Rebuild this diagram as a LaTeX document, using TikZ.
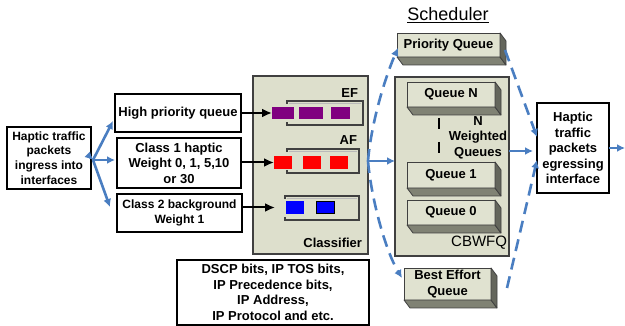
\documentclass[tikz,border=0pt]{standalone}
\usepackage{fontspec}
\setmainfont{Liberation Sans}
\usetikzlibrary{arrows.meta}
\definecolor{fillg}{RGB}{221,223,204}
\definecolor{frontg}{RGB}{224,226,208}
\definecolor{botg}{RGB}{128,130,116}
\definecolor{rightg}{RGB}{100,102,92}
\definecolor{arrowblue}{RGB}{74,126,193}
\definecolor{edgeg}{RGB}{64,64,64}
\definecolor{efpurple}{RGB}{128,0,128}
\begin{document}
\begin{tikzpicture}[x=1pt,y=-1pt,
  every node/.style={inner sep=0pt, outer sep=0pt, align=center},
  wbox/.style={draw=black, line width=1.1pt, fill=white, font=\bfseries\fontsize{13}{15.5}\selectfont},
  wboxs/.style={wbox, font=\bfseries\fontsize{12}{14.7}\selectfont},
  panel/.style={draw=edgeg, line width=1.3pt, fill=fillg},
  qfront/.style={draw=edgeg, line width=0.8pt, fill=frontg, font=\bfseries\fontsize{13}{16}\selectfont},
  lbl/.style={font=\bfseries\fontsize{13}{15.5}\selectfont},
  bluea/.style={draw=arrowblue, line width=2.6pt, -{Latex[length=8pt,width=8pt]}},
  blued/.style={bluea, dash pattern=on 12pt off 7pt},
  blk/.style={draw=black, line width=2pt, -{Latex[length=10pt,width=9pt]}},
  tube/.style={draw=edgeg, line width=1.6pt},
  tubeshade/.style={draw=gray!55, line width=1pt},
  sqbox/.style={minimum width=#1, minimum height=12.5pt}
]
\useasboundingbox (0,0) rectangle (625,326);

% left white boxes
\node[wboxs, minimum width=84pt, minimum height=62pt] (ingress) at (49,158)
  {Haptic traffic\\packets\\ingress into\\interfaces};
\node[wbox, minimum width=126pt, minimum height=38pt] (hpq) at (178,113) {High priority queue};
\node[wbox, minimum width=124pt, minimum height=50pt] (c1) at (179,163)
  {Class 1 haptic\\Weight 0, 1, 5,10\\or 30};
\node[wboxs, minimum width=125pt, minimum height=38pt] (c2) at (179.5,213)
  {Class 2 background\\Weight 1};

% classifier panel
\node[panel, minimum width=115pt, minimum height=178pt] (classifier) at (310.5,165) {};
\node[lbl, anchor=east] (clab) at (362,243) {Classifier};
\node[lbl, anchor=east] (eflab) at (358,93) {EF};
\node[lbl, anchor=east] (aflab) at (357,140) {AF};

% tubes
\draw[tube] (287,104) -- (287,101) -- (363,101) -- (363,125) -- (287,125) -- (287,122);
\draw[tubeshade] (289,103.5) -- (361,103.5);
\draw[tube] (287,152) -- (287,149) -- (359,149) -- (359,173) -- (287,173) -- (287,170);
\draw[tubeshade] (289,151.5) -- (357,151.5);
\draw[tube] (285,199) -- (285,196) -- (359,196) -- (359,220) -- (285,220) -- (285,217);
\draw[tubeshade] (287,198.5) -- (357,198.5);

% packets
\node[sqbox=22pt, fill=efpurple] (ef1) at (283,113) {};
\node[sqbox=24pt, fill=efpurple] (ef2) at (311,113) {};
\node[sqbox=19pt, fill=efpurple] (ef3) at (340.5,113) {};
\node[sqbox=18pt, fill=red] (af1) at (283,162.5) {};
\node[sqbox=18pt, fill=red] (af2) at (312,162.5) {};
\node[sqbox=18pt, fill=red] (af3) at (339,162.5) {};
\node[sqbox=18pt, fill=blue] (bl1) at (295,207.5) {};
\node[sqbox=18pt, fill=blue, draw=black, line width=0.8pt] (bl2) at (325,207.5) {};

% black arrows into classifier
\draw[blk] (hpq.east) -- (ef1.west);
\draw[blk] (c1.east |- af1.west) -- (af1.west);
\draw[blk] (c2.east |- bl1.west) -- ([shift={(-11,0)}]bl1.west);

% info box
\node[wbox, minimum width=192pt, minimum height=65pt] (info) at (273,292.5)
  {DSCP bits, IP TOS bits,\\IP Precedence bits,\\IP Address,\\IP Protocol and etc.};

% scheduler
\node[font=\fontsize{18}{20}\selectfont] (sched) at (448,15) {\underline{Scheduler}};
\node[panel, minimum width=114pt, minimum height=179pt] (cbwfq) at (452,166.5) {};
\node[font=\fontsize{15}{17}\selectfont, anchor=east] (cblab) at (507,243) {CBWFQ};

\node[qfront, minimum width=103pt, minimum height=24pt] (pq) at (448.5,45) {Priority Queue};
\node[qfront, minimum width=88pt, minimum height=25pt] (qN) at (451,94.5) {Queue N};
\node[qfront, minimum width=88pt, minimum height=26pt] (q1) at (451,175) {Queue 1};
\node[qfront, minimum width=88pt, minimum height=25pt] (q0) at (451,212.5) {Queue 0};
\node[qfront, minimum width=87pt, minimum height=32pt] (be) at (447.5,284) {Best Effort\\Queue};

\foreach \n in {pq,qN,q1,q0,be}{
  \filldraw[fill=botg, draw=edgeg, line width=0.8pt, line join=round]
    (\n.south west) -- (\n.south east) -- ([shift={(6,8)}]\n.south east) -- ([shift={(6,8)}]\n.south west) -- cycle;
  \filldraw[fill=rightg, draw=edgeg, line width=0.8pt, line join=round]
    (\n.north east) -- ([shift={(6,8)}]\n.north east) -- ([shift={(6,8)}]\n.south east) -- (\n.south east) -- cycle;
}

\node[lbl] (nwq) at (478,137.5) {N\\Weighted\\Queues};
\draw[black, line width=1.5pt, dash pattern=on 11pt off 13pt] (439,118) -- (439,155);

% egress box
\node[wbox, minimum width=72pt, minimum height=90pt] (egress) at (573,148)
  {Haptic\\traffic\\packets\\egressing\\interface};

% blue arrows left
\coordinate (fk) at (93,160);
\draw[bluea] (ingress.east) -- (fk);
\draw[bluea] (fk) -- ([shift={(-2,-11)}]hpq.south west);
\draw[bluea, shorten >=2pt] (fk) -- (c1.west |- fk);
\draw[bluea] (fk) -- ([shift={(-7,-6)}]c2.west);

% blue arrows from classifier
\coordinate (fk2) at (368,161);
\draw[bluea] (fk2) -- (cbwfq.west |- fk2);
\draw[blued] (fk2) .. controls (371,125) and (384,80) .. ([shift={(1,3)}]pq.west);
\draw[blued] (fk2) .. controls (371,197) and (385,250) .. ([shift={(-2,-6)}]be.west);

% into egress
\coordinate (mid) at (509,151);
\draw[blued] ([shift={(5,5)}]pq.east) -- ([shift={(0,-11)}]egress.west);
\draw[blued] ([shift={(16,4)}]be.east) -- ([shift={(0,12)}]egress.west);
\draw[bluea, shorten >=4pt] (cbwfq.east |- mid) -- (egress.west |- mid);

\coordinate (outend) at (625,148);
\draw[bluea] (egress.east) -- (outend);
\end{tikzpicture}
\end{document}
